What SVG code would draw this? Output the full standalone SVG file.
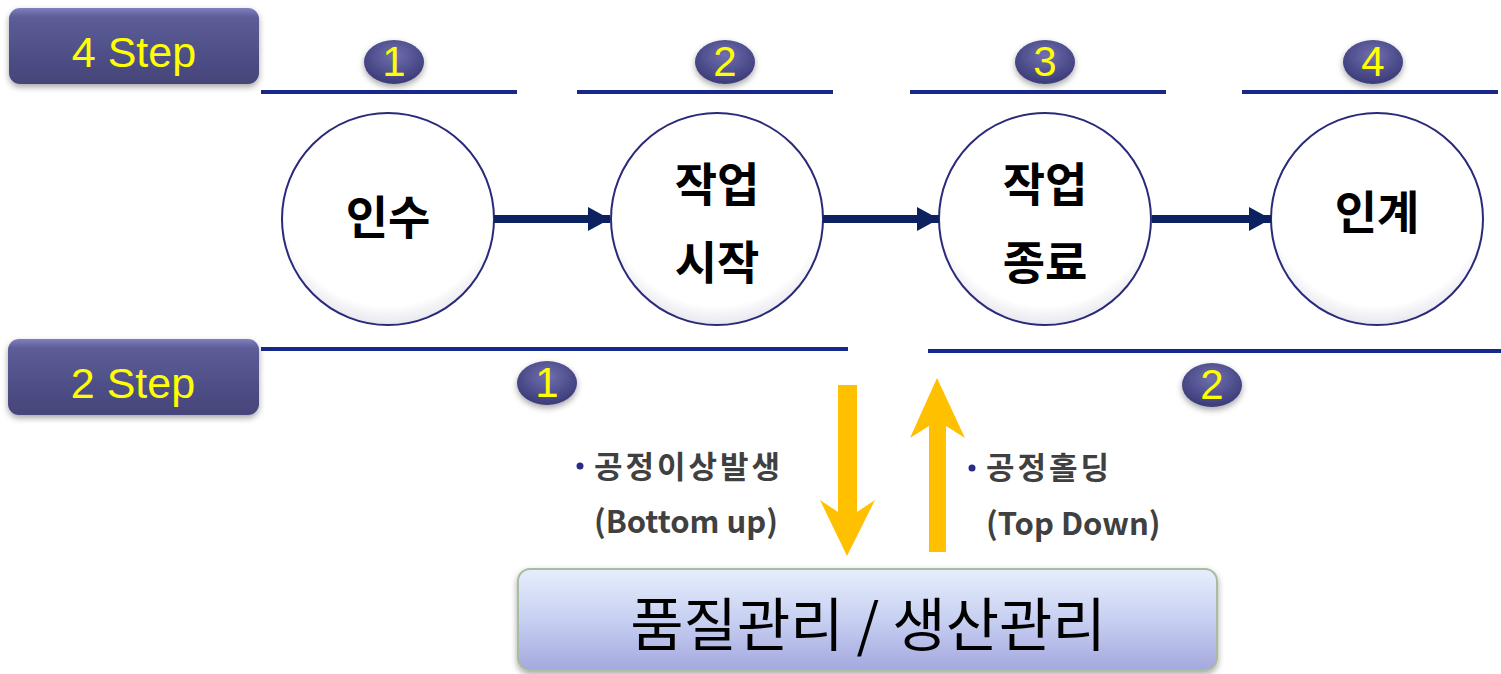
<svg xmlns="http://www.w3.org/2000/svg" width="1501" height="674" viewBox="0 0 1501 674">
<style>
.step{font-family:"Liberation Sans",Arial,sans-serif;font-size:43px;fill:#ffff00;text-anchor:middle}
.num{font-family:"Liberation Sans",Arial,sans-serif;font-size:42px;fill:#ffff00;text-anchor:middle}
.node{font-family:"Noto Sans CJK KR","Noto Sans",sans-serif;font-size:46px;font-weight:bold;fill:#000;text-anchor:middle}
.lbl{font-family:"Noto Sans CJK KR","Noto Sans",sans-serif;font-size:31px;font-weight:bold;fill:#404040}
.ko{letter-spacing:3px}
.big{font-family:"Noto Sans CJK KR","Noto Sans",sans-serif;font-size:58px;fill:#000;text-anchor:middle}
.rule{stroke:#16288c;stroke-width:4}
.circ{fill:url(#cg);stroke:#2a2a7a;stroke-width:2}
.flow{stroke:#0c2160;stroke-width:8;fill:none}
</style>
<defs>
<linearGradient id="sg" x1="0" y1="0" x2="0" y2="1"><stop offset="0" stop-color="#8080c0"/><stop offset="0.12" stop-color="#5c5c98"/><stop offset="1" stop-color="#45457a"/></linearGradient>
<radialGradient id="bg" cx="0.5" cy="0.35" r="0.65"><stop offset="0" stop-color="#7070b0"/><stop offset="1" stop-color="#3a3a78"/></radialGradient>
<radialGradient id="cg" cx="0.5" cy="0.4" r="0.6"><stop offset="0.85" stop-color="#ffffff"/><stop offset="1" stop-color="#e6e6ee"/></radialGradient>
<linearGradient id="pg" x1="0" y1="0" x2="0" y2="1"><stop offset="0" stop-color="#e6eefc"/><stop offset="0.5" stop-color="#c8d0f2"/><stop offset="1" stop-color="#a4a8de"/></linearGradient>
<filter id="sh" x="-20%" y="-20%" width="140%" height="160%"><feDropShadow dx="0" dy="3" stdDeviation="3" flood-color="#000" flood-opacity="0.35"/></filter>
<marker id="ah" markerWidth="24" markerHeight="24" refX="22" refY="12" orient="auto" markerUnits="userSpaceOnUse"><path d="M0,0 L22,12 L0,24 Z" fill="#0c2160"/></marker>
</defs>

<g id="step4"><rect x="9" y="8" width="250" height="76" rx="11" fill="url(#sg)" filter="url(#sh)"/><text class="step" x="134" y="67">4 Step</text></g>
<g id="step2"><rect x="8" y="339" width="251" height="76" rx="11" fill="url(#sg)" filter="url(#sh)"/><text class="step" x="133" y="398">2 Step</text></g>

<g id="rules">
<line class="rule" x1="261" y1="92" x2="517" y2="92"/>
<line class="rule" x1="577" y1="92" x2="833" y2="92"/>
<line class="rule" x1="910" y1="92" x2="1166" y2="92"/>
<line class="rule" x1="1242" y1="92" x2="1498" y2="92"/>
<line class="rule" x1="261" y1="349" x2="848" y2="349"/>
<line class="rule" x1="928" y1="351" x2="1501" y2="351"/>
</g>

<g id="badge4-1"><ellipse cx="394" cy="62" rx="30" ry="22" fill="url(#bg)" filter="url(#sh)"/><text class="num" x="394" y="76">1</text></g>
<g id="badge4-2"><ellipse cx="725" cy="62" rx="30" ry="22" fill="url(#bg)" filter="url(#sh)"/><text class="num" x="725" y="76">2</text></g>
<g id="badge4-3"><ellipse cx="1045" cy="62" rx="30" ry="22" fill="url(#bg)" filter="url(#sh)"/><text class="num" x="1045" y="76">3</text></g>
<g id="badge4-4"><ellipse cx="1373" cy="62" rx="30" ry="22" fill="url(#bg)" filter="url(#sh)"/><text class="num" x="1373" y="76">4</text></g>
<g id="badge2-1"><ellipse cx="547" cy="383" rx="30" ry="22" fill="url(#bg)" filter="url(#sh)"/><text class="num" x="547" y="397">1</text></g>
<g id="badge2-2"><ellipse cx="1212" cy="385" rx="30" ry="22" fill="url(#bg)" filter="url(#sh)"/><text class="num" x="1212" y="399">2</text></g>

<g id="n1"><circle class="circ" cx="388" cy="219" r="106"/><text class="node" x="388" y="234">인수</text></g>
<g id="n2"><circle class="circ" cx="717" cy="219" r="106"/><text class="node" x="717" y="201">작업</text><text class="node" x="717" y="279">시작</text></g>
<g id="n3"><circle class="circ" cx="1045" cy="219" r="106"/><text class="node" x="1045" y="201">작업</text><text class="node" x="1045" y="279">종료</text></g>
<g id="n4"><circle class="circ" cx="1377" cy="219" r="106"/><text class="node" x="1377" y="229">인계</text></g>

<g id="connectors">
<line class="flow" x1="494" y1="219" x2="610" y2="219" marker-end="url(#ah)"/>
<line class="flow" x1="823" y1="219" x2="939" y2="219" marker-end="url(#ah)"/>
<line class="flow" x1="1152" y1="219" x2="1271" y2="219" marker-end="url(#ah)"/>
<path d="M838,385 L857,385 L857,512 L875,500 L847,556 L820,500 L838,512 Z" fill="#ffc000"/>
<path d="M929,552 L946,552 L946,426 L965,438 L937,378 L910,438 L929,426 Z" fill="#ffc000"/>
</g>

<g id="lbl-bottomup"><circle cx="580" cy="466" r="3.5" fill="#2a2a8a"/><text class="lbl ko" x="594" y="478">공정이상발생</text><text class="lbl" x="594" y="533">(Bottom up)</text></g>
<g id="lbl-topdown"><circle cx="972" cy="468" r="3.5" fill="#2a2a8a"/><text class="lbl ko" x="986" y="479">공정홀딩</text><text class="lbl" x="986" y="535">(Top Down)</text></g>

<g id="mgmt"><rect x="518" y="569" width="699" height="101" rx="12" fill="url(#pg)" stroke="#a8bca0" stroke-width="2" filter="url(#sh)"/><text class="big" x="868" y="646">품질관리 / 생산관리</text></g>
</svg>
